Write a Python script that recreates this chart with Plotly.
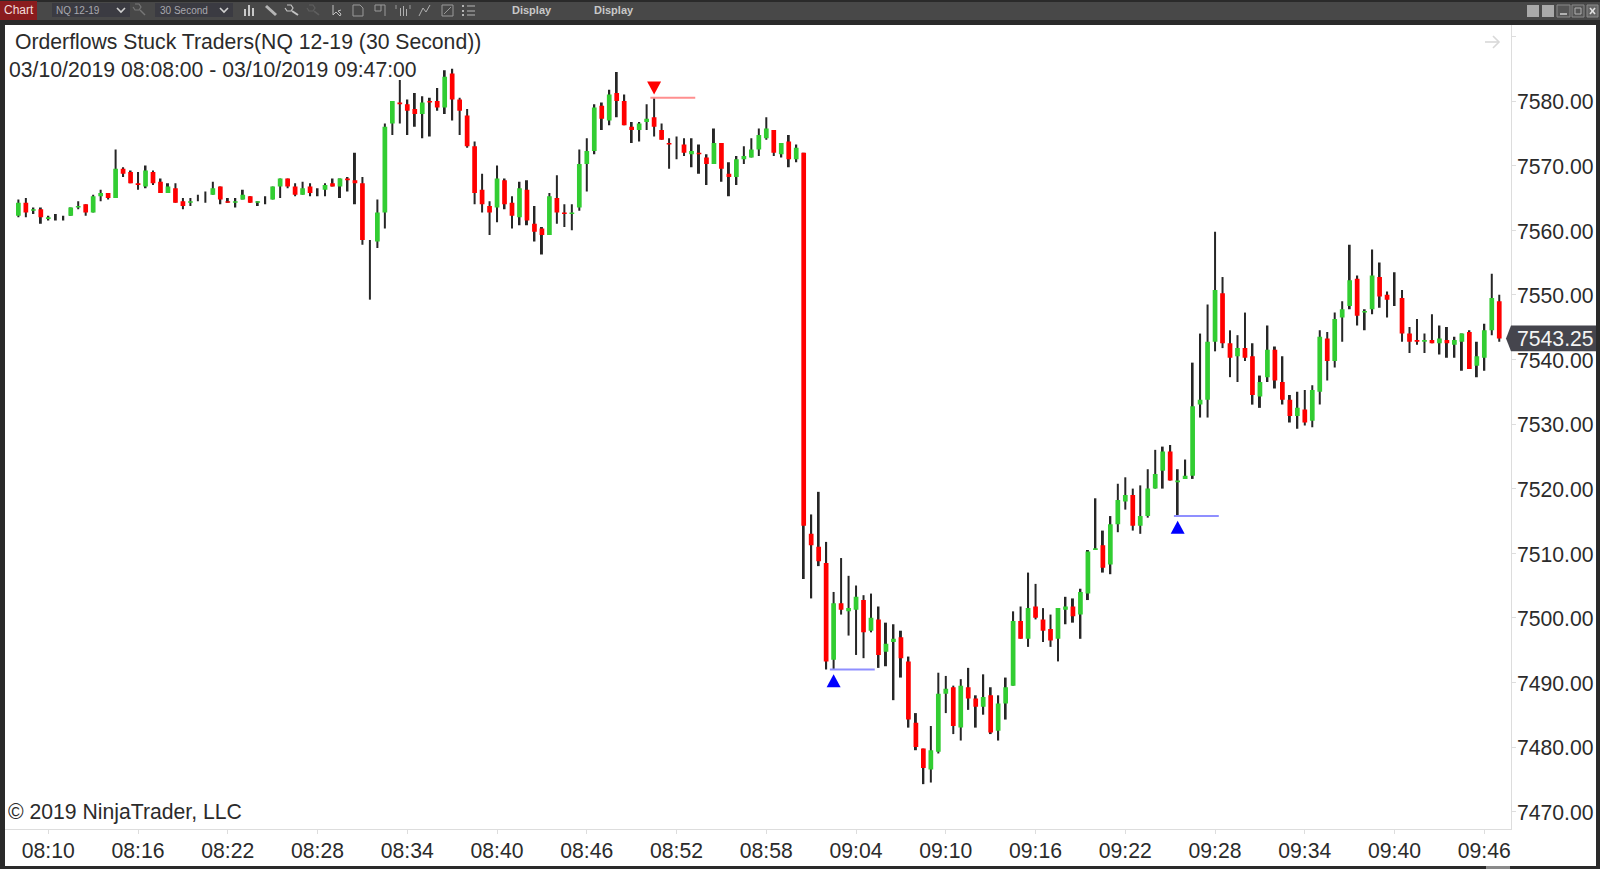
import plotly.graph_objects as go
from datetime import datetime, timedelta

W, H = 1600, 869
session_day = "2019-10-03"
start_clock = "08:08:00"
bar_seconds = 30

open_prices = [
 7562.25,7564.25,7563,7563.25,7561.75,7562,7562,7562.25,7563.5,7564,
 7562.75,7565.25,7565.75,7565,7569.5,7569,7567.25,7566.75,7569,7567.5,
 7565.75,7566.5,7564.5,7564.25,7565,7565.25,7565.5,7566.75,7564.5,7564.25,
 7564.75,7565.25,7564.25,7564.5,7564.75,7566.75,7568,7566.75,7565.5,7566.75,
 7565.75,7566.25,7567.25,7566.75,7568,7567.75,7567.25,7558.5,7558.25,7562.75,
 7576.5,7579.75,7579.5,7578.75,7578,7580,7580,7579,7584.25,7580.25,
 7577.75,7573,7566.25,7563.75,7563.5,7567.75,7564.25,7562,7566.25,7561,
 7560.25,7559.25,7565,7562.75,7562.5,7563.5,7570.25,7572.25,7579.25,7577,
 7581.25,7580,7576,7575.5,7576.75,7577.5,7575.5,7573.5,7573.25,7573.25,
 7571.75,7572,7571.25,7570.25,7573.5,7568.75,7568.25,7571,7571.25,7572.5,
 7574.25,7575.5,7571.75,7573.75,7571,7572,7513,7511,7508.5,7493.5,
 7502.25,7501,7501.25,7502.75,7498,7499.75,7494.75,7496.25,7497,7493.25,
 7483.75,7479.75,7476.5,7479.25,7488.25,7489.25,7483,7489.25,7487.5,7486.25,
 7488,7482.5,7486.75,7489.5,7499.5,7496.75,7501.75,7499.75,7498.25,7496.75,
 7501.25,7501.75,7500.5,7503.75,7510.5,7511.25,7508.25,7514.5,7518,7519,
 7514.25,7515.75,7520,7522.75,7525.75,7521,7521.5,7522,7533,7533.75,
 7542.75,7550.25,7542.5,7540.5,7541.75,7540.5,7534.25,7537.25,7541.5,7536.5,
 7533.75,7531.25,7532.25,7530.5,7535,7543.25,7539.75,7546.5,7548.25,7552.5,
 7547.25,7547.75,7552.75,7550,7549.5,7549.5,7544,7543,7542.75,7543,
 7542.5,7543,7542.25,7542.75,7544.25,7539,7540.25,7544.5,7549,
]
high_prices = [
 7564.75,7565,7563.5,7563.5,7562.25,7562.5,7562.25,7563.5,7564.5,7564,
 7565.5,7566.25,7565.75,7572.5,7569.75,7569.25,7569,7570,7569.25,7568,
 7567.25,7567.25,7565,7565,7565.5,7566,7567.5,7566.75,7565,7565,
 7566.25,7565.25,7564.5,7565.25,7566.75,7568,7568,7567.25,7567.5,7567.25,
 7566.5,7567.25,7568,7568,7568.25,7572,7568.25,7558.5,7564.75,7576.5,
 7580,7583.25,7580.25,7581.25,7580.75,7580.5,7582,7584.75,7585,7580.5,
 7578.75,7573.75,7568.75,7564.5,7570,7568,7565.25,7567.5,7567.75,7563.75,
 7560.5,7565.75,7568.5,7564,7564,7572.5,7574.25,7579.5,7579.75,7581.75,
 7584.5,7581,7576.75,7576.75,7579.5,7580.5,7576.5,7574.25,7574.5,7574.25,
 7574.25,7573.25,7571.75,7575.75,7573.5,7570.5,7571.5,7573,7574.25,7575.75,
 7577.5,7575.5,7573.5,7574.75,7573.25,7572,7516,7519.5,7511.75,7504,
 7509.25,7506.5,7505,7503.5,7503.75,7501.75,7499.25,7499,7498,7494,
 7485.25,7479.75,7483.25,7491.5,7491,7489.5,7490.5,7492.25,7488,7491.25,
 7489.25,7488,7490.75,7501,7501.75,7507,7505.25,7501.5,7500.5,7501.5,
 7503.25,7503,7504.5,7510.5,7518.5,7513.5,7515.75,7520.75,7521.75,7520,
 7520.5,7523,7526,7526.5,7526.75,7523,7524.5,7539.5,7544,7548.5,
 7559.75,7552.75,7544.5,7543.75,7547.25,7542.5,7537.5,7545.25,7542,7540.5,
 7534.5,7535,7535.25,7536,7544.5,7544.25,7547.25,7549,7557.75,7553,
 7547.75,7557,7555,7550.5,7553.5,7550.75,7545,7546.25,7544,7547,
 7545.25,7545,7543.5,7544,7544.5,7542.75,7545.5,7553.25,7550,
]
low_prices = [
 7562,7562,7562.5,7561,7561.5,7561.5,7561.5,7562.25,7563.25,7562.25,
 7562.75,7564.5,7564.75,7565,7568.25,7567.25,7566.25,7566.5,7567,7565.75,
 7565.75,7564.25,7563.25,7563.75,7564.5,7564.25,7565.5,7564,7564.25,7563.5,
 7564.75,7564.25,7563.75,7564,7564.75,7565,7566.5,7565.25,7565.5,7565.25,
 7565.25,7565.25,7566.75,7565,7566,7564,7557.75,7549.25,7557.25,7560.25,
 7574.75,7576.5,7574.75,7576,7574.25,7574.5,7578.5,7578,7577,7574.75,
 7572.75,7564,7562.75,7559.25,7561.25,7563.25,7560.25,7560.75,7560.75,7558.25,
 7556.25,7559.25,7561,7560.5,7560,7563,7566,7571.75,7575.5,7576.25,
 7577.5,7576.25,7573.5,7573.75,7575.5,7574.5,7574,7569.5,7571,7571.5,
 7569.75,7568.75,7567,7570.25,7567.5,7565.25,7567,7570.25,7571.25,7571.5,
 7574,7571.5,7571.25,7569.75,7570.5,7506,7503,7508,7492,7492,
 7500.5,7497.25,7494.25,7493.75,7497.75,7492.25,7492.5,7487.25,7490.75,7483,
 7479.5,7474.25,7474.5,7479,7485.25,7482,7481,7485.75,7483,7485,
 7482,7481,7484.25,7489.5,7496.75,7495.5,7499.75,7496.25,7495.5,7493.25,
 7499,7499.25,7496.75,7502.75,7510.5,7507,7506.75,7513.25,7516.75,7513.5,
 7513,7515.5,7520,7520,7521.25,7515.75,7521.5,7521.5,7531,7531,
 7541.25,7541.75,7537.25,7536.5,7539.75,7533,7532.5,7536.5,7535.5,7533,
 7530.25,7529.25,7529.75,7529.5,7533,7536.75,7538.75,7542.75,7547.75,7545.25,
 7544.5,7547,7548,7546.5,7548.25,7542.75,7541,7542.25,7541,7542.5,
 7540.75,7540.25,7540.25,7538.25,7538.5,7537.25,7538.25,7543.75,7542.75,
]
close_prices = [
 7564.25,7562.75,7563.25,7562,7562,7562,7562,7563.5,7563.75,7562.75,
 7565.25,7565.75,7565,7569.5,7568.75,7567.25,7567,7569.25,7567.25,7565.75,
 7566.75,7564.25,7563.75,7564.5,7565,7565.25,7566.5,7564.75,7564.25,7564.5,
 7565.5,7564.25,7564.5,7564.5,7566.75,7568,7566.75,7565.5,7566.5,7565.75,
 7565.75,7567,7566.75,7568,7567.75,7567.25,7558.5,7558.5,7562.75,7576,
 7580,7579.5,7578.5,7578,7579.75,7579.75,7579,7583.75,7580.25,7578.5,
 7573,7565.75,7564,7562.75,7568,7564,7562.25,7566.5,7561.5,7559.75,
 7559.25,7565.25,7562.75,7562.5,7562.75,7570.25,7572.25,7579,7577.25,7581,
 7580,7576.25,7575.5,7576.5,7577.25,7576,7574,7573.25,7573.25,7572,
 7572.25,7571.75,7570.25,7573.5,7569.5,7568.25,7571,7571.5,7572.5,7574.75,
 7575.75,7572,7573.5,7571,7572.75,7514.25,7511.25,7508.75,7493.25,7502.25,
 7501.25,7501.5,7503.25,7497.75,7500,7494.25,7496,7496.75,7493.75,7484.25,
 7480,7476.75,7479.5,7488.25,7489,7483.25,7489.5,7487.5,7486.25,7487.75,
 7482.25,7486.75,7489.25,7499.5,7496.75,7501.5,7500,7498,7496.5,7501.5,
 7501.75,7500.25,7504,7510.25,7510.75,7507.75,7514.5,7518.25,7519,7514.25,
 7515.75,7520,7522.25,7525.75,7521.25,7521.25,7522,7532.75,7533.75,7542.75,
 7550.75,7542.5,7540.25,7541.75,7540.25,7534.5,7536.5,7541.5,7536.75,7533.75,
 7531.25,7532.5,7530.25,7535.25,7543.5,7539.75,7546.25,7547.75,7552.25,7546.75,
 7547.5,7553,7549.75,7549.25,7549.5,7544,7542.75,7542.75,7543,7542.5,
 7543.25,7542.5,7543,7544,7538.5,7540.5,7544.5,7549.5,7543.25,
]

time_tick_labels = ["08:10","08:16","08:22","08:28","08:34","08:40","08:46","08:52","08:58",
                    "09:04","09:10","09:16","09:22","09:28","09:34","09:40","09:46"]
price_ticks = [7470,7480,7490,7500,7510,7520,7530,7540,7550,7560,7570,7580,7590]
price_tick_labels = ["7470.00","7480.00","7490.00","7500.00","7510.00","7520.00","7530.00",
                     "7540.00","7550.00","7560.00","7570.00","7580.00",""]

short_signal_bars = [85]
short_signal_marks = [7582.0]
long_signal_bars = [109, 155]
long_signal_marks = [7490.25, 7514.0]

title_text = "Orderflows Stuck Traders(NQ 12-19 (30 Second))"
range_text = "03/10/2019 08:08:00 - 03/10/2019 09:47:00"
copyright_text = "\u00a9 2019 NinjaTrader, LLC"

GREEN, RED, WICK = "#32CD32", "#FF0000", "#262626"
FONT = "Liberation Sans"
INK = "#2b2b2b"
TEXT_SIZE = 21.2

t0 = datetime.fromisoformat(f"{session_day} {start_clock}")
times = [t0 + timedelta(seconds=bar_seconds * i) for i in range(len(close_prices))]
body_hi = [max(o, c) for o, c in zip(open_prices, close_prices)]
body_lo = [min(o, c) for o, c in zip(open_prices, close_prices)]


def px(x):
    return x / W


def py(y):
    return 1 - y / H


def rect(x0, y0, x1, y1, fill, line=None):
    return dict(type="rect", xref="paper", yref="paper", x0=px(x0), x1=px(x1), y0=py(y1), y1=py(y0),
                fillcolor=fill, line=dict(width=1 if line else 0, color=line or fill), layer="above")


def poly(points, color="#b9b9b9", width=1.2, fill=None, close=False):
    path = "M " + " L ".join(f"{px(a):.5f},{py(b):.5f}" for a, b in points) + (" Z" if close else "")
    return dict(type="path", xref="paper", yref="paper", path=path, layer="above",
                line=dict(color=color, width=width), fillcolor=fill or "rgba(0,0,0,0)")


def signal_triangle(when, price, color, points_up):
    tip = 6.5 if points_up else -6.5
    return dict(type="path", xref="x", yref="y", xsizemode="pixel", ysizemode="pixel",
                xanchor=when, yanchor=price, path=f"M -7,{-tip} L 7,{-tip} L 0,{tip} Z",
                fillcolor=color, line=dict(width=0), layer="above")


def label(x, y, text, size=TEXT_SIZE, color=INK, anchor="left", bold=False):
    return dict(xref="paper", yref="paper", x=px(x), y=py(y), text=f"<b>{text}</b>" if bold else text,
                showarrow=False, xanchor=anchor, yanchor="middle", xshift=0,
                font=dict(family=FONT, size=size, color=color))


fig = go.Figure()
fig.add_trace(go.Bar(x=times, y=[h - l for h, l in zip(high_prices, low_prices)], base=low_prices,
                     width=8000, marker=dict(color=WICK, line=dict(width=0)), showlegend=False, hoverinfo="skip"))
fig.add_trace(go.Candlestick(x=times, open=open_prices, close=close_prices, high=body_hi, low=body_lo,
                             increasing=dict(fillcolor=GREEN, line=dict(color=GREEN, width=0)),
                             decreasing=dict(fillcolor=RED, line=dict(color=RED, width=0)),
                             showlegend=False, hoverinfo="skip"))

# signal levels start half a bar before the signal bar and run six bars
half = timedelta(seconds=bar_seconds / 2)
run = timedelta(seconds=bar_seconds * 6)
for i in short_signal_bars:
    fig.add_trace(go.Scatter(x=[times[i] - half, times[i] - half + run], y=[high_prices[i]] * 2, mode="lines",
                             line=dict(color="#FF8F8F", width=2), showlegend=False, hoverinfo="skip"))
for i in long_signal_bars:
    fig.add_trace(go.Scatter(x=[times[i] - half, times[i] - half + run], y=[low_prices[i]] * 2, mode="lines",
                             line=dict(color="#8F8FFF", width=2), showlegend=False, hoverinfo="skip"))

# window chrome
shapes = [
    dict(type="rect", xref="paper", yref="paper", x0=px(5), x1=px(1596), y0=py(866), y1=py(25),
         fillcolor="white", line=dict(width=0), layer="below"),
    rect(0, 2, W, 20, "#484848"),
    rect(0, 1, 37, 20, "#8A1C1E"),
    rect(52, 3, 130, 17, "#3B3B42"),
    rect(155, 3, 233, 17, "#3B3B42"),
    rect(1486, 866, 1510, H, "#8a8a8a"),
    rect(1527, 5, 1539, 17, "#A9A9A9"),
    rect(1542, 5, 1554, 17, "#A9A9A9"),
    rect(1557, 5, 1570, 17, "#555555", "#8a8a8a"),
    rect(1572, 5, 1584, 17, "#555555", "#8a8a8a"),
    rect(1587, 5, 1598, 17, "#666666", "#8a8a8a"),
    poly([(1560, 14), (1567, 14)], "#d0d0d0", 1.5),
    rect(1575, 8, 1581, 14, "#555555", "#b0b0b0"),
    poly([(1590, 8), (1595, 14)], "#e0e0e0", 1.6),
    poly([(1595, 8), (1590, 14)], "#e0e0e0", 1.6),
    poly([(117, 8), (121, 12), (125, 8)], "#d0d0d0", 1.6),
    poly([(220, 8), (224, 12), (228, 8)], "#d0d0d0", 1.6),
    poly([(135, 4), (139, 4), (141, 7), (139, 10), (135, 10), (133, 7)], "#777777", 1.2),
    poly([(140, 10), (145, 15)], "#777777", 1.4),
    rect(244, 9, 246, 16, "#c8c8c8"), rect(248, 5, 250, 16, "#c8c8c8"), rect(252, 8, 254, 16, "#c8c8c8"),
    poly([(266, 6), (276, 15)], "#b5b5b5", 3),
    poly([(287, 5), (291, 5), (293, 8), (291, 11), (287, 11), (285, 8)], "#c4c4c4", 1.2),
    poly([(292, 11), (298, 15)], "#c4c4c4", 2),
    poly([(309, 5), (313, 5), (315, 8), (313, 11), (309, 11), (307, 8)], "#5f5f5f", 1.2),
    poly([(314, 11), (319, 15)], "#5f5f5f", 1.6),
    poly([(333, 5), (333, 15), (336, 12), (340, 16), (341, 14), (338, 11), (341, 10)], "#c0c0c0", 1),
    poly([(353, 5), (360, 5), (363, 8), (363, 16), (353, 16)], "#9a9a9a", 1, close=True),
    poly([(375, 5), (385, 5), (385, 16)], "#9a9a9a", 1),
    poly([(375, 5), (375, 11), (381, 11), (381, 5)], "#9a9a9a", 1),
    poly([(396, 5), (396, 9)], "#9a9a9a", 1), poly([(410, 5), (410, 9)], "#9a9a9a", 1),
    rect(400, 8, 401, 16, "#b0b0b0"), rect(403, 6, 404, 16, "#b0b0b0"), rect(406, 9, 407, 16, "#b0b0b0"),
    poly([(419, 16), (423, 8), (426, 12), (430, 5)], "#b0b0b0", 1),
    rect(442, 5, 453, 16, "#484848", "#9a9a9a"),
    poly([(444, 14), (451, 7)], "#9a9a9a", 1),
    rect(462, 5, 464, 7, "#b5b5b5"), rect(462, 10, 464, 12, "#b5b5b5"), rect(462, 14, 464, 16, "#b5b5b5"),
    poly([(467, 6), (475, 6)], "#b5b5b5", 1), poly([(467, 11), (475, 11)], "#b5b5b5", 1),
    poly([(467, 15), (475, 15)], "#b5b5b5", 1),
    # pale scroll arrow, upper right of the plot
    poly([(1485, 42), (1499, 42)], "#D8D8D8", 1.6),
    poly([(1493, 36), (1499, 42), (1493, 48)], "#D8D8D8", 1.6),
    # last-price tag, vertically tied to the last close
    dict(type="path", xref="paper", yref="y", layer="above", fillcolor="#45454D", line=dict(width=0),
         path=(f"M {px(1506)},{close_prices[-1]} L {px(1511)},{close_prices[-1] + 2} "
               f"L {px(1596)},{close_prices[-1] + 2} L {px(1596)},{close_prices[-1] - 2} "
               f"L {px(1511)},{close_prices[-1] - 2} Z")),
]
for i, mark in zip(short_signal_bars, short_signal_marks):
    shapes.append(signal_triangle(times[i], mark, "#FF0000", False))
for i, mark in zip(long_signal_bars, long_signal_marks):
    shapes.append(signal_triangle(times[i], mark, "#0000FF", True))

annotations = [
    label(13, 42, title_text),
    label(7, 70, range_text),
    label(6, 812, copyright_text),
    label(18.5, 10.5, "Chart", 12, "#F2DCDC", "center"),
    label(54, 10.5, "NQ 12-19", 10, "#A8A8AE"),
    label(158, 10.5, "30 Second", 10, "#A8A8AE"),
    label(532, 10.5, "Display", 11, "#C8C8C8", "center", True),
    label(614, 10.5, "Display", 11, "#C8C8C8", "center", True),
    dict(xref="paper", yref="y", x=px(1515), y=close_prices[-1], text=f"{close_prices[-1]:.2f}", showarrow=False,
         xanchor="left", yanchor="middle", font=dict(family=FONT, size=TEXT_SIZE, color="#F4F4F4")),
]

PPU_Y = 6.46
PPM_X = 14.96
tick_times = [datetime.fromisoformat(f"{session_day} {t}:00") for t in time_tick_labels]

fig.update_layout(
    width=W, height=H, autosize=False,
    margin=dict(l=0, r=0, t=0, b=0, pad=0),
    paper_bgcolor="#2A2A2A", plot_bgcolor="white",
    barmode="overlay", boxgap=0.37, boxgroupgap=0,
    shapes=shapes, annotations=annotations,
    font=dict(family=FONT, size=TEXT_SIZE, color=INK),
    xaxis=dict(domain=[px(5), px(1510.7)], type="date", rangeslider=dict(visible=False),
               range=[tick_times[0] - timedelta(minutes=43.3 / PPM_X),
                      tick_times[-1] + timedelta(minutes=26.4 / PPM_X)],
               tickmode="array", tickvals=tick_times, ticktext=time_tick_labels,
               ticks="outside", ticklen=4, tickcolor="#DDDDDD", tickwidth=1, ticklabelstandoff=-1,
               showline=True, linecolor="#DDDDDD", linewidth=1, showgrid=False, zeroline=False,
               tickfont=dict(family=FONT, size=TEXT_SIZE, color=INK), automargin=False),
    yaxis=dict(domain=[py(829), py(25)], side="right",
               range=[7580 - (829 - 101) / PPU_Y, 7580 + (101 - 25) / PPU_Y],
               tickmode="array", tickvals=price_ticks, ticktext=price_tick_labels,
               ticks="outside", ticklen=4, tickcolor="#DDDDDD", tickwidth=1, ticklabelstandoff=-3,
               ticklabelshift=1,
               showline=True, linecolor="#DDDDDD", linewidth=1, showgrid=False, zeroline=False,
               tickfont=dict(family=FONT, size=TEXT_SIZE, color=INK), automargin=False),
)

fig.write_html("out.html", config={"displayModeBar": False}, post_script="document.body.style.margin='0';")
